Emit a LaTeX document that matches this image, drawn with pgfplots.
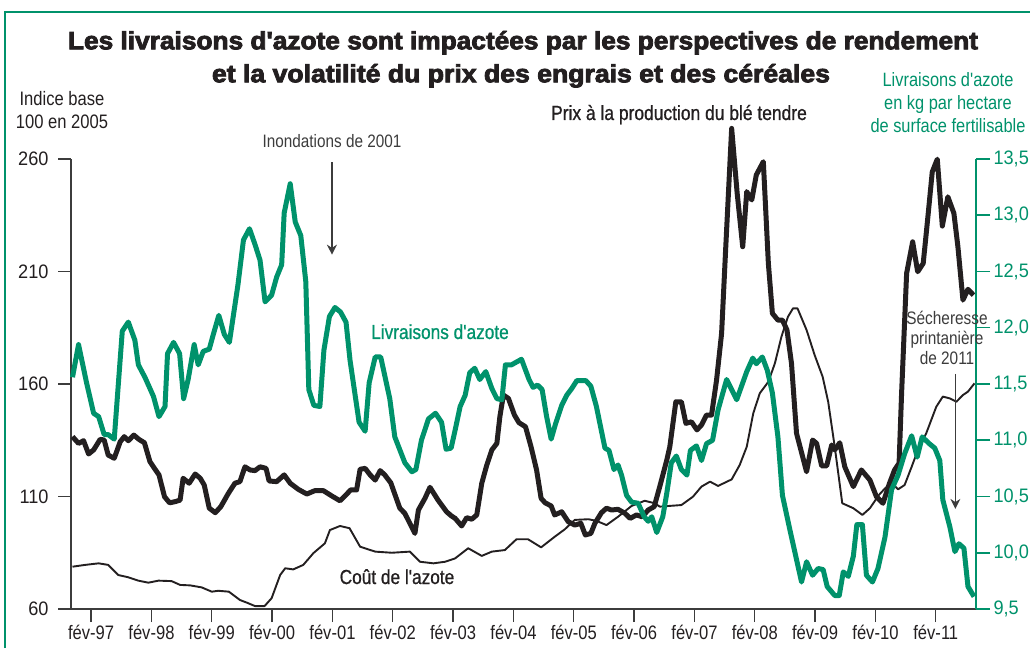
\documentclass[border=0pt]{standalone}
\usepackage{pgfplots}
\pgfplotsset{compat=1.18}
\usepackage{fontspec}
\setmainfont{Liberation Sans}[FakeStretch=0.85, Ligatures=TeXOff]
\newfontfamily\numfont{Liberation Sans}[FakeStretch=0.93, Ligatures=TeXOff]
\newfontfamily\medfont{Liberation Sans}[FakeStretch=0.85, Ligatures=TeXOff, FakeBold=0.8]
\newfontfamily\titlefont{Liberation Sans}[FakeStretch=0.9, Ligatures=TeXOff, BoldFeatures={FakeBold=3}]
\usetikzlibrary{arrows.meta}
\definecolor{vert}{RGB}{0,146,107}
\definecolor{noir}{RGB}{35,31,32}
\definecolor{gris}{RGB}{60,60,60}

\begin{document}
\begin{tikzpicture}[x=1pt,y=1pt]
\useasboundingbox (0,0) rectangle (1030,648);
\draw[vert, line width=2pt] (5,0) -- (5,636) -- (1030,636);

\begin{axis}[
  at={(71pt,39pt)}, anchor=south west, scale only axis,
  width=905pt, height=450pt,
  xmin=-4, xmax=176, ymin=60, ymax=260,
  axis x line*=bottom, axis y line*=left,
  axis line style={-, gris, line width=1.3pt},
  tick align=outside, major tick length=13pt,
  tick style={gris, line width=1.3pt},
  xtick={0,12,24,36,48,60,72,84,96,108,120,132,144,156,168},
  xticklabels={fév-97,fév-98,fév-99,fév-00,fév-01,fév-02,fév-03,fév-04,fév-05,fév-06,fév-07,fév-08,fév-09,fév-10,fév-11},
  ytick={60,110,160,210,260},
  tick label style={font=\fontsize{19.5}{21}\selectfont, text=noir},
  yticklabel style={font=\numfont\fontsize{19.5}{21}\selectfont, xshift=-6pt},
  /pgf/number format/assume math mode=true,
  clip=false,
]
% Coût de l'azote (thin)
\addplot[noir, line width=1.9pt, line join=round] coordinates {
(-3.7,78.8)(-1.2,79.6)(1.5,80.3)(3.4,79.6)(5.4,75.1)(7.4,74.1)(9.4,72.6)(11.4,71.7)(13.4,72.6)(16.0,72.4)(17.7,70.7)(19.7,70.5)(22.0,69.6)(24.0,67.7)(25.3,68.1)(27.4,67.7)(29.6,64.0)(31.0,62.8)(32.6,61.3)(34.5,61.3)(35.9,64.8)(37.6,75.1)(38.6,78.1)(40.2,77.6)(42.2,79.6)(44.2,84.8)(46.5,89.2)(47.5,95.1)(49.5,96.9)(51.4,95.9)(53.5,87.7)(56.5,85.5)(59.8,85.0)(63.4,85.5)(65.4,81.0)(68.1,80.3)(70.4,81.0)(72.4,82.5)(75.0,87.0)(77.7,83.6)(79.7,85.5)(82.3,86.2)(84.6,91.0)(86.9,91.0)(89.5,87.4)(92.2,92.1)(94.2,95.4)(96.2,99.6)(98.9,99.9)(100.5,99.2)(102.5,97.3)(104.8,101.0)(107.5,105.8)(110.1,108.1)(112.1,107.0)(113.1,105.5)(117.4,106.2)(119.7,109.9)(121.4,114.4)(123.1,116.6)(124.7,114.7)(127.4,117.6)(129.0,124.0)(130.4,132.1)(131.7,147.0)(133.0,155.9)(134.7,161.0)(136.0,169.2)(137.3,181.0)(138.6,189.9)(139.6,193.6)(140.5,193.6)(142.3,184.0)(143.9,172.9)(145.5,163.2)(146.6,152.1)(147.9,132.1)(149.4,107.0)(151.6,104.8)(153.4,101.8)(154.9,104.8)(156.7,110.7)(157.9,113.6)(159.2,116.1)(160.5,113.2)(161.8,115.1)(163.2,123.2)(164.5,131.0)(166.1,138.1)(168.1,149.9)(169.4,154.4)(170.8,153.6)(172.1,152.1)(173.4,155.1)(174.4,156.6)(175.7,160.3)
};
% Prix du blé tendre (thick)
\addplot[noir, line width=5pt, line join=round] coordinates {
(-3.7,136.6)(-2.5,133.6)(-1.5,134.8)(-0.5,128.9)(0.5,130.7)(1.8,135.4)(2.6,135.1)(3.4,128.4)(4.6,127.0)(5.8,134.4)(6.6,136.6)(7.4,134.8)(8.5,137.3)(9.5,135.4)(10.6,133.9)(11.7,125.5)(12.6,122.5)(13.5,119.6)(14.6,109.9)(15.6,107.2)(16.7,107.7)(17.7,108.4)(18.3,118.1)(19.5,115.9)(20.7,120.0)(21.7,118.1)(22.5,115.1)(23.5,104.8)(24.7,102.8)(25.8,105.5)(27.3,111.4)(28.6,115.9)(29.6,116.6)(30.6,123.2)(31.6,121.8)(32.6,121.5)(33.6,123.2)(34.8,122.5)(35.4,116.9)(36.9,116.6)(38.4,119.6)(39.6,115.9)(41.2,113.2)(42.9,111.1)(44.5,112.6)(46.2,112.6)(47.9,110.2)(49.5,108.1)(50.7,110.7)(51.6,112.9)(52.8,112.9)(53.5,122.1)(54.5,122.5)(55.5,119.6)(56.5,117.3)(57.5,121.5)(58.4,119.6)(59.6,116.1)(61.4,104.8)(62.4,102.5)(64.4,93.6)(65.1,104.0)(66.4,109.2)(67.4,114.1)(69.0,108.4)(70.7,103.2)(71.7,101.3)(72.4,100.3)(73.7,96.9)(74.7,100.6)(75.7,99.9)(76.7,101.8)(77.7,115.9)(78.7,124.0)(79.7,130.7)(80.7,133.6)(81.3,145.5)(82.0,155.1)(83.0,153.6)(84.2,146.2)(85.1,142.8)(86.4,141.0)(87.5,132.1)(88.6,121.8)(89.5,109.2)(90.3,107.2)(91.5,105.8)(92.2,101.8)(93.6,103.2)(94.9,98.8)(96.2,97.3)(97.4,98.1)(98.3,92.9)(99.4,93.6)(100.2,98.1)(101.5,102.8)(102.5,104.8)(103.5,104.0)(104.8,104.3)(106.2,102.5)(107.2,100.3)(108.5,101.8)(109.6,101.0)(110.8,104.0)(112.0,105.5)(113.1,114.4)(114.5,126.2)(115.1,132.1)(116.3,152.1)(117.4,152.1)(118.3,142.5)(119.4,143.2)(120.5,139.6)(121.4,141.8)(122.4,146.2)(123.4,146.2)(124.4,161.8)(125.4,182.5)(126.2,219.6)(127.4,273.6)(128.5,244.7)(129.6,221.0)(130.4,245.5)(131.4,241.8)(132.3,252.9)(133.7,258.8)(134.7,213.6)(135.5,191.4)(136.6,188.4)(137.5,188.4)(138.4,184.0)(139.3,169.2)(140.3,138.1)(142.3,121.0)(143.5,135.1)(144.3,133.6)(145.3,123.6)(146.3,123.6)(147.3,132.9)(147.9,130.7)(148.9,133.9)(149.9,123.2)(151.6,114.4)(153.2,121.8)(154.9,117.3)(156.2,109.9)(157.5,107.0)(158.8,115.9)(159.8,121.8)(160.7,124.8)(161.2,155.9)(162.2,209.2)(163.4,223.2)(164.4,209.9)(165.5,213.6)(166.5,235.9)(167.3,254.3)(168.3,259.9)(169.3,230.2)(170.4,243.2)(171.6,235.9)(172.4,221.0)(173.4,197.3)(174.4,202.1)(175.5,199.5)
};
% flèches
\draw[gris, line width=1.2pt, -{Stealth[length=10pt,width=10pt]}] (axis cs:47.9,258.5) -- (axis cs:47.9,217.5);
\draw[gris, line width=1.2pt, -{Stealth[length=10pt,width=10pt]}] (axis cs:171.9,164.5) -- (axis cs:171.9,104.5);
\end{axis}

\begin{axis}[
  at={(71pt,39pt)}, anchor=south west, scale only axis,
  width=905pt, height=450pt,
  xmin=-4, xmax=176, ymin=9.5, ymax=13.5,
  axis x line=none, axis y line*=right,
  axis line style={-, vert, line width=1.5pt},
  tick align=outside, major tick length=14pt,
  tick style={vert, line width=1.5pt},
  ytick={9.5,10,10.5,11,11.5,12,12.5,13,13.5},
  yticklabel style={font=\numfont\fontsize{19.5}{21}\selectfont, text=vert,
    /pgf/number format/.cd, fixed, fixed zerofill, precision=1, use comma},
  /pgf/number format/assume math mode=true,
  clip=false,
]
\addplot[vert, line width=5pt, line join=round] coordinates {
(-3.7,11.56)(-2.5,11.85)(-0.9,11.51)(0.5,11.24)(1.5,11.21)(2.6,11.05)(3.4,11.05)(4.6,11.01)(6.2,11.97)(7.4,12.05)(8.7,11.89)(9.4,11.67)(10.7,11.56)(12.4,11.39)(13.5,11.21)(14.7,11.30)(15.2,11.77)(16.4,11.87)(17.6,11.77)(18.4,11.37)(19.3,11.54)(20.5,11.85)(21.3,11.67)(22.3,11.79)(23.5,11.81)(24.3,11.94)(25.4,12.11)(26.5,11.94)(27.5,11.87)(29.2,12.38)(30.3,12.78)(31.5,12.88)(32.6,12.74)(33.6,12.60)(34.6,12.23)(35.9,12.29)(36.9,12.45)(37.9,12.56)(38.4,13.02)(39.6,13.28)(40.6,12.94)(41.7,12.82)(42.7,12.41)(43.3,11.45)(44.3,11.31)(45.5,11.30)(46.3,11.80)(47.4,12.10)(48.5,12.18)(49.6,12.14)(50.7,12.05)(51.5,11.71)(53.3,11.16)(54.5,11.08)(55.3,11.51)(56.5,11.74)(57.6,11.74)(59.4,11.37)(60.4,11.03)(62.4,10.80)(63.8,10.72)(64.6,10.74)(65.7,11.00)(67.1,11.19)(68.5,11.24)(69.7,11.16)(70.6,10.92)(71.6,10.93)(72.4,11.09)(73.4,11.30)(74.4,11.40)(75.3,11.60)(76.3,11.64)(77.3,11.54)(78.5,11.61)(79.7,11.46)(80.7,11.37)(81.7,11.36)(82.4,11.67)(83.6,11.67)(85.6,11.72)(87.1,11.54)(87.9,11.47)(88.8,11.49)(89.7,11.45)(90.6,11.21)(91.5,11.01)(92.4,11.15)(93.6,11.31)(94.6,11.40)(95.6,11.46)(96.6,11.53)(98.4,11.53)(99.4,11.48)(100.5,11.30)(102.2,10.93)(103.0,10.91)(104.0,10.74)(104.8,10.78)(105.5,10.69)(106.5,10.51)(107.5,10.45)(108.8,10.44)(110.0,10.32)(110.8,10.28)(111.5,10.32)(112.5,10.18)(113.7,10.32)(114.5,10.53)(115.4,10.80)(116.4,10.86)(117.4,10.74)(118.5,10.69)(119.2,10.91)(120.4,10.95)(121.4,10.82)(122.4,10.97)(123.6,11.00)(124.7,11.27)(126.4,11.54)(128.4,11.36)(130.4,11.61)(131.6,11.73)(132.3,11.68)(133.5,11.74)(134.5,11.62)(135.5,11.42)(136.6,11.03)(137.5,10.51)(139.0,10.20)(140.3,9.94)(141.3,9.74)(142.3,9.92)(143.5,9.80)(144.6,9.86)(145.6,9.85)(146.4,9.70)(147.9,9.62)(148.8,9.62)(149.6,9.83)(150.6,9.79)(151.6,9.97)(152.3,10.25)(153.4,10.25)(154.2,9.80)(155.4,9.74)(156.5,9.86)(157.9,10.14)(159.2,10.56)(160.5,10.69)(161.8,10.88)(163.2,11.04)(164.3,10.85)(165.3,11.03)(166.7,10.97)(167.8,10.93)(168.8,10.82)(169.4,10.47)(170.8,10.23)(171.8,10.01)(172.6,10.08)(173.6,10.04)(174.4,9.70)(175.6,9.61)
};
\end{axis}

% Titre
\node[anchor=base, text=noir] at (523,598.7) {\resizebox{910pt}{\height}{\titlefont\bfseries\fontsize{25}{30}\selectfont Les livraisons d'azote sont impactées par les perspectives de rendement}};
\node[anchor=base, text=noir] at (521,565.7) {\resizebox{618pt}{\height}{\titlefont\bfseries\fontsize{25}{30}\selectfont et la volatilité du prix des engrais et des céréales}};

% Unités
\node[anchor=base, text=noir, font=\fontsize{19.5}{22}\selectfont] at (62,542) {Indice base};
\node[anchor=base, text=noir, font=\fontsize{19.5}{22}\selectfont] at (62,519) {100 en 2005};
\node[anchor=base, text=vert, font=\fontsize{19.3}{22}\selectfont] at (948,561) {Livraisons d'azote};
\node[anchor=base, text=vert, font=\fontsize{19.3}{22}\selectfont] at (948,538.5) {en kg par hectare};
\node[anchor=base, text=vert, font=\fontsize{19.3}{22}\selectfont] at (948,515.5) {de surface fertilisable};

% Annotations
\node[anchor=base, text=noir, font=\medfont\fontsize{20.5}{24}\selectfont] at (679,528) {Prix à la production du blé tendre};
\node[anchor=base, text=gris, font=\fontsize{18}{20}\selectfont] at (332,500) {Inondations de 2001};
\node[anchor=base, text=vert, font=\medfont\fontsize{20.3}{24}\selectfont] at (440,309) {Livraisons d'azote};
\node[anchor=base, text=noir, font=\medfont\fontsize{20.3}{24}\selectfont] at (397,64) {Coût de l'azote};
\node[anchor=base, text=gris, font=\fontsize{18.1}{20}\selectfont] at (947,323) {Sécheresse};
\node[anchor=base, text=gris, font=\fontsize{18.1}{20}\selectfont] at (947,303) {printanière};
\node[anchor=base, text=gris, font=\fontsize{18.1}{20}\selectfont] at (947,283) {de 2011};
\end{tikzpicture}
\end{document}
